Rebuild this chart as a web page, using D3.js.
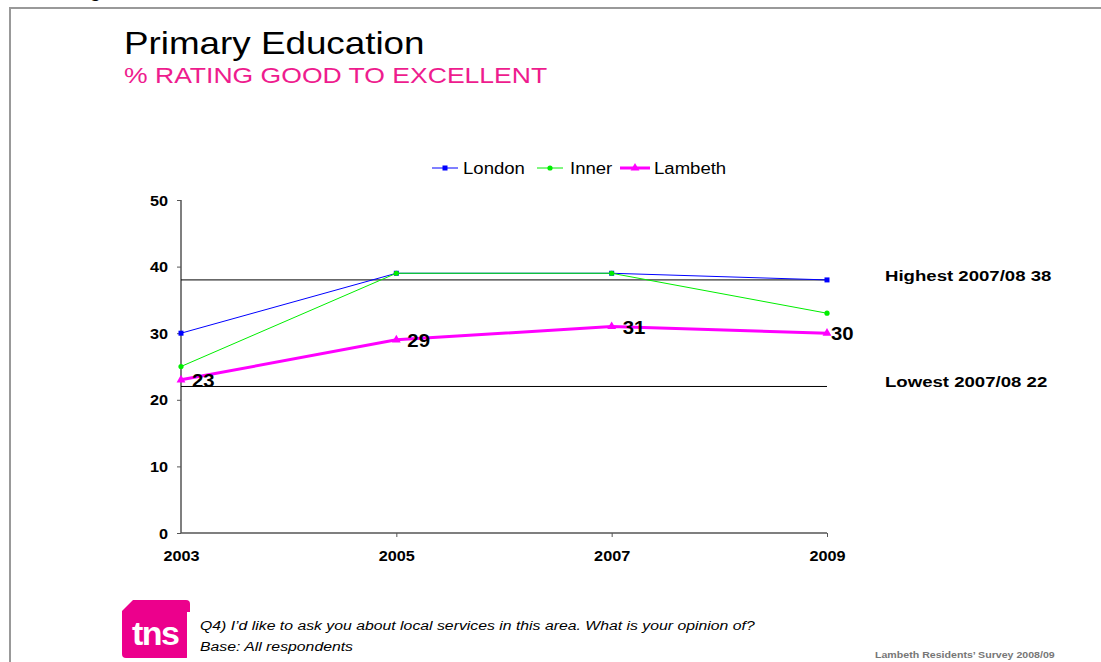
<!DOCTYPE html>
<html>
<head>
<meta charset="utf-8">
<script src="https://cdn.jsdelivr.net/npm/d3@7"></script>
<style>
  body { margin: 0; background: #fff; }
  svg { display: block; font-family: "Liberation Sans", Arial, sans-serif; }
</style>
</head>
<body>
<svg id="chart" width="1101" height="662"></svg>
<script>
// Survey waves and ratings (% good to excellent)
const years = ["2003", "2005", "2007", "2009"];
const london = [30, 39, 39, 38];
const inner = [25, 39, 39, 33];
const lambeth = [23, 29, 31, 30];
const yTicks = [0, 10, 20, 30, 40, 50];
const highest = 38;
const lowest = 22;
const highestLabel = "Highest 2007/08 38";
const lowestLabel = "Lowest 2007/08 22";

// Slide text is set slightly wide
const SX = 1.16;
const svg = d3.select("#chart");

function label(parent, px, py, str, opts = {}) {
  const t = parent.append("text")
    .attr("transform", `translate(${px},${py}) scale(${opts.sx || SX},1)`)
    .attr("font-size", opts.size || 14)
    .attr("fill", opts.fill || "#000")
    .attr("text-anchor", opts.anchor || "start")
    .text(str);
  if (opts.bold) t.attr("font-weight", "bold");
  if (opts.italic) t.attr("font-style", "italic");
  return t;
}

// Slide frame
svg.append("path")
  .attr("d", "M10,1000 V8 H1200")
  .attr("fill", "none").attr("stroke", "#999").attr("stroke-width", 2);

// Header text clipped above the frame
label(svg, 101, -3, "Rating", { size: 18, anchor: "end" });

// Titles
label(svg, 124, 54, "Primary Education", { size: 32, sx: 1.15 });
label(svg, 124, 83, "% RATING GOOD TO EXCELLENT", { size: 22.5, sx: 1.18, fill: "#EE1C8E" });

// Scales
const x = d3.scalePoint().domain(years).range([181, 827]);
const y = d3.scaleLinear().domain([0, 50]).range([533, 200]);

// Axes
const yAxis = svg.append("g").attr("transform", "translate(181,0)")
  .call(d3.axisLeft(y).tickValues(yTicks).tickSize(4));
const xAxis = svg.append("g").attr("transform", "translate(0,533)")
  .call(d3.axisBottom(x).tickSize(4));
[yAxis, xAxis].forEach(g => {
  g.selectAll(".domain").attr("stroke", "#555").attr("stroke-width", 1.5);
  g.selectAll(".tick line").attr("stroke", "#555");
  g.selectAll(".tick text").remove();
});
yAxis.select(".domain").attr("d", "M0," + y(50) + "V" + y(0));
xAxis.select(".domain").attr("d", "M" + x("2003") + ",0H" + x("2009"));
xAxis.selectAll(".tick line").filter(d => d === "2003").remove();
yAxis.selectAll(".tick").each(function (d) {
  label(d3.select(this), -13, 5, d, { size: 14, bold: true, anchor: "end" });
});
xAxis.selectAll(".tick").each(function (d) {
  label(d3.select(this), 0, 28, d, { size: 14, bold: true, anchor: "middle" });
});

// Highest / lowest reference lines
[[highest, highestLabel], [lowest, lowestLabel]].forEach(([v, txt]) => {
  svg.append("line")
    .attr("x1", x("2003")).attr("x2", x("2009"))
    .attr("y1", y(v)).attr("y2", y(v))
    .attr("stroke", "#000").attr("stroke-width", 1);
  label(svg, 885, y(v) + 1, txt, { size: 15.5, bold: true, sx: 1.2 });
});

const line = d3.line().x((d, i) => x(years[i])).y(d => y(d));

// London
svg.append("path").datum(london).attr("d", line)
  .attr("fill", "none").attr("stroke", "#0000FF").attr("stroke-width", 1);
svg.selectAll(".lon").data(london).join("rect")
  .attr("x", (d, i) => x(years[i]) - 2.5).attr("y", d => y(d) - 2.5)
  .attr("width", 5).attr("height", 5).attr("fill", "#0000FF");

// Inner
svg.append("path").datum(inner).attr("d", line)
  .attr("fill", "none").attr("stroke", "#00EE00").attr("stroke-width", 1);
svg.selectAll(".inn").data(inner).join("circle")
  .attr("cx", (d, i) => x(years[i])).attr("cy", d => y(d))
  .attr("r", 2.6).attr("fill", "#00EE00");

// Lambeth
svg.append("path").datum(lambeth).attr("d", line)
  .attr("fill", "none").attr("stroke", "#FF00FF").attr("stroke-width", 3);
const tri = d3.symbol().type(d3.symbolTriangle).size(34);
svg.selectAll(".lam").data(lambeth).join("path")
  .attr("d", tri)
  .attr("transform", (d, i) => `translate(${x(years[i])},${y(d)})`)
  .attr("fill", "#FF00FF");
lambeth.forEach((d, i) => {
  label(svg, x(years[i]) + (i === 3 ? 4 : 11), y(d) + 7, d, { size: 18.5, bold: true, sx: 1.1 });
});

// Legend
const legend = [
  { name: "London", color: "#0000FF", w: 1, mark: "square", x: 432 },
  { name: "Inner", color: "#00EE00", w: 1, mark: "circle", x: 537 },
  { name: "Lambeth", color: "#FF00FF", w: 3, mark: "triangle", x: 620 }
];
legend.forEach(l => {
  const g = svg.append("g").attr("transform", `translate(${l.x},168)`);
  g.append("line").attr("x1", 0).attr("x2", l.mark === "triangle" ? 30 : 26)
    .attr("stroke", l.color).attr("stroke-width", l.w);
  if (l.mark === "square") g.append("rect").attr("x", 10.5).attr("y", -2.5).attr("width", 5).attr("height", 5).attr("fill", l.color);
  if (l.mark === "circle") g.append("circle").attr("cx", 13).attr("r", 2.6).attr("fill", l.color);
  if (l.mark === "triangle") g.append("path").attr("d", tri).attr("transform", "translate(15,0)").attr("fill", l.color);
  label(g, l.mark === "triangle" ? 34 : (l.mark === "circle" ? 33 : 31), 6, l.name, { size: 16 });
});

// TNS logo
const logo = svg.append("g");
svg.append("clipPath").attr("id", "logoclip")
  .append("rect").attr("x", 110).attr("y", 595).attr("width", 80).attr("height", 70);
logo.attr("clip-path", "url(#logoclip)");
logo.append("path")
  .attr("d", "M133,600 H186 Q190,600 190,604 V654 Q190,658 186,658 H126 Q122,658 122,654 V611 Z")
  .attr("fill", "#EC008C");
logo.append("text").attr("x", 132).attr("y", 645)
  .attr("font-size", 34).attr("font-weight", "bold").attr("fill", "#fff")
  .attr("letter-spacing", -1.5).text("tns");
logo.append("rect").attr("x", 187).attr("y", 612).attr("width", 8).attr("height", 48).attr("fill", "#fff");

// Footnotes
label(svg, 200, 630, "Q4) I’d like to ask you about local services in this area. What is your opinion of?",
  { size: 13.5, italic: true, sx: 1.17 });
label(svg, 200, 651, "Base: All respondents", { size: 13.5, italic: true, sx: 1.17 });
label(svg, 875, 658, "Lambeth Residents’ Survey 2008/09", { size: 9, bold: true, fill: "#777", sx: 1.18 });
</script>
</body>
</html>
